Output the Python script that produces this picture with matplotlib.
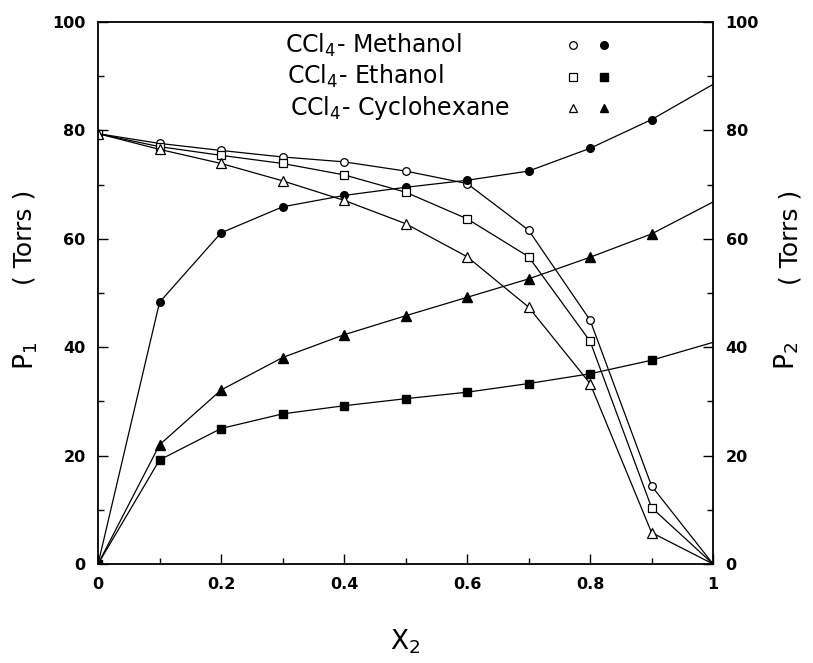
#%% import libraries
import numpy as np
import matplotlib.pyplot as plt

#%% data (pressures in Torrs)
x2 = [0.0, 0.1, 0.2, 0.3, 0.4, 0.5, 0.6, 0.7, 0.8, 0.9, 1.0]

methanol_p1 = [79.4, 77.6, 76.3, 75.1, 74.2, 72.5, 70.2, 61.6, 45.0, 14.4, 0.0]
methanol_p2 = [0.0, 48.3, 61.1, 65.9, 68.0, 69.5, 70.8, 72.5, 76.7, 82.0, 88.5]

ethanol_p1 = [79.4, 77.0, 75.4, 73.9, 71.8, 68.6, 63.7, 56.7, 41.1, 10.4, 0.0]
ethanol_p2 = [0.0, 19.2, 25.0, 27.7, 29.2, 30.5, 31.7, 33.3, 35.1, 37.6, 40.9]

cyclohexane_p1 = [79.4, 76.5, 73.9, 70.7, 67.1, 62.8, 56.7, 47.4, 33.3, 5.8, 0.0]
cyclohexane_p2 = [0.0, 22.0, 32.1, 38.1, 42.3, 45.8, 49.2, 52.6, 56.6, 60.9, 66.8]

legend_labels = [r'CCl$_4$- Methanol', r'CCl$_4$- Ethanol', r'CCl$_4$- Cyclohexane']
legend_markers = ['o', 's', '^']

#%% figure
fig = plt.figure(figsize=(8.13, 6.63), dpi=100)
ax = fig.add_axes([0.1206, 0.1493, 0.7565, 0.8175])

series = [(methanol_p1, methanol_p2, 'o'),
          (ethanol_p1, ethanol_p2, 's'),
          (cyclohexane_p1, cyclohexane_p2, '^')]

for p1, p2, m in series:
    ms = 6.5 if m == '^' else 5.5
    # open markers for P1, filled for P2; no marker drawn at x2 = 1
    ax.plot(x2, p1, color='black', lw=0.9, marker=m, ms=ms, mfc='white',
            mec='black', mew=0.9, markevery=slice(0, 10))
    ax.plot(x2, p2, color='black', lw=0.9, marker=m, ms=ms, mfc='black',
            mec='black', markevery=slice(0, 10))

ax.set_xlim(0, 1)
ax.set_ylim(0, 100)
ax.set_xticks([0, 0.2, 0.4, 0.6, 0.8, 1.0])
ax.set_xticklabels(['0', '0.2', '0.4', '0.6', '0.8', '1'])
ax.set_xticks(np.arange(0.1, 1.0, 0.2), minor=True)
ax.set_yticks([0, 20, 40, 60, 80, 100])
ax.set_yticks([10, 30, 50, 70, 90], minor=True)

for s in ax.spines.values():
    s.set_linewidth(1.3)

ax.tick_params(which='both', direction='in', right=True, labelright=True,
               width=1.0, labelsize=11.5, pad=9)
ax.tick_params(which='major', length=7)
ax.tick_params(which='minor', length=4)
for lab in ax.get_xticklabels() + ax.get_yticklabels():
    lab.set_fontweight('bold')
for t in ax.yaxis.get_major_ticks():
    t.label2.set_fontweight('bold')

# axis labels
ax.set_xlabel(r'X$_2$', fontsize=19, labelpad=26)
fig.text(0.030, 1 - 237 / 663, '( Torrs )', rotation=90, fontsize=18,
         ha='center', va='center')
fig.text(0.032, 1 - 356 / 663, r'P$_1$', rotation=90, fontsize=19,
         ha='center', va='center')
fig.text(0.972, 1 - 237 / 663, '( Torrs )', rotation=90, fontsize=18,
         ha='center', va='center')
fig.text(0.968, 1 - 356 / 663, r'P$_2$', rotation=90, fontsize=19,
         ha='center', va='center')

#%% legend drawn by hand: label text, open key, filled key
for i, (lab, m) in enumerate(zip(legend_labels, legend_markers)):
    yy = 0.957 - i * 0.058
    ax.text(0.304 + i * 0.004, yy, lab, transform=ax.transAxes, fontsize=17,
            ha='left', va='center')
    ax.plot([0.773], [yy], transform=ax.transAxes, marker=m, ms=5.5,
            mfc='white', mec='black', mew=0.9, ls='none', clip_on=False)
    ax.plot([0.822], [yy], transform=ax.transAxes, marker=m, ms=5.5,
            mfc='black', mec='black', ls='none', clip_on=False)

plt.savefig('out.png', dpi=100)
